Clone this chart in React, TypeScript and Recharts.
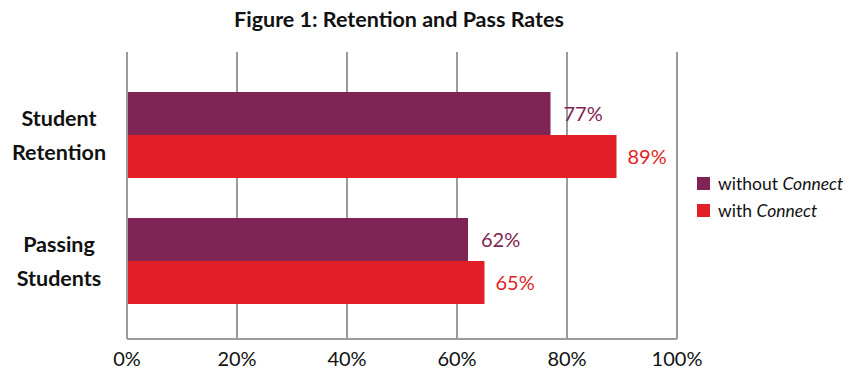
import { BarChart, Bar, XAxis, YAxis, CartesianGrid, LabelList } from 'recharts';

const categories = ['Student Retention', 'Passing Students'];
const categoryLines = [['Student', 'Retention'], ['Passing', 'Students']];
const withoutConnect = [77, 62];
const withConnect = [89, 65];
const xTicks = [0, 20, 40, 60, 80, 100];

const PURPLE = '#7F2454';
const RED = '#E21E26';
const GRID = '#9B9B9D';
const FONT = 'Lato, "Open Sans", sans-serif';

const data = categories.map((name, i) => ({
  name,
  without: withoutConnect[i],
  with: withConnect[i],
}));

const CategoryTick = (props: any) => {
  const { y, payload } = props;
  const idx = categories.indexOf(payload.value);
  const lines = categoryLines[idx] || [payload.value];
  return (
    <text
      x={59}
      y={y}
      textAnchor="middle"
      fontFamily={FONT}
      fontWeight="bold"
      fontSize={21.5}
      fill="#111"
    >
      {lines.map((l: string, i: number) => (
        <tspan key={i} x={59} dy={i === 0 ? -9 : 34}>
          {l}
        </tspan>
      ))}
    </text>
  );
};

const legendItems = [
  { label: 'without', color: PURPLE },
  { label: 'with', color: RED },
];

export default function App() {
  return (
    <div style={{ position: 'absolute', left: 0, top: 0, width: 850, height: 380, background: '#fff' }}>
      <div
        style={{
          position: 'absolute',
          left: 0,
          width: 798,
          top: 6,
          textAlign: 'center',
          fontFamily: FONT,
          fontWeight: 'bold',
          fontSize: 21.5,
          color: '#111',
        }}
      >
        Figure 1: Retention and Pass Rates
      </div>
      <BarChart
        width={850}
        height={380}
        data={data}
        layout="vertical"
        margin={{ top: 52, right: 173, bottom: 0, left: 0 }}
        barCategoryGap={20}
        barGap={0}
      >
        <CartesianGrid horizontal={false} stroke={GRID} strokeWidth={2} verticalValues={xTicks} />
        <XAxis
          type="number"
          domain={[0, 100]}
          ticks={xTicks}
          tickFormatter={(v) => `${v}%`}
          axisLine={{ stroke: GRID, strokeWidth: 2 }}
          tickLine={false}
          height={41}
          tickMargin={7}
          tick={{ fontFamily: FONT, fontSize: 20, fill: '#111' }}
        />
        <YAxis
          type="category"
          dataKey="name"
          width={127}
          axisLine={{ stroke: GRID, strokeWidth: 2 }}
          tickLine={false}
          padding={{ top: 20, bottom: 15 }}
          tick={<CategoryTick />}
        />
        <Bar dataKey="without" fill={PURPLE} isAnimationActive={false}>
          <LabelList
            dataKey="without"
            position="right"
            offset={13}
            formatter={(v: any) => `${v}%`}
            style={{ fontFamily: FONT, fontSize: 20, fill: PURPLE }}
          />
        </Bar>
        <Bar dataKey="with" fill={RED} isAnimationActive={false}>
          <LabelList
            dataKey="with"
            position="right"
            offset={11}
            formatter={(v: any) => `${v}%`}
            style={{ fontFamily: FONT, fontSize: 20, fill: RED }}
          />
        </Bar>
      </BarChart>
      <div style={{ position: 'absolute', left: 697, top: 170, fontFamily: FONT, fontSize: 17.5, color: '#111' }}>
        {legendItems.map((it) => (
          <div key={it.label} style={{ display: 'flex', alignItems: 'center', height: 27 }}>
            <span style={{ width: 13, height: 13, background: it.color, display: 'inline-block', marginRight: 8 }} />
            <span>
              {it.label} <i>Connect</i>
            </span>
          </div>
        ))}
      </div>
    </div>
  );
}
